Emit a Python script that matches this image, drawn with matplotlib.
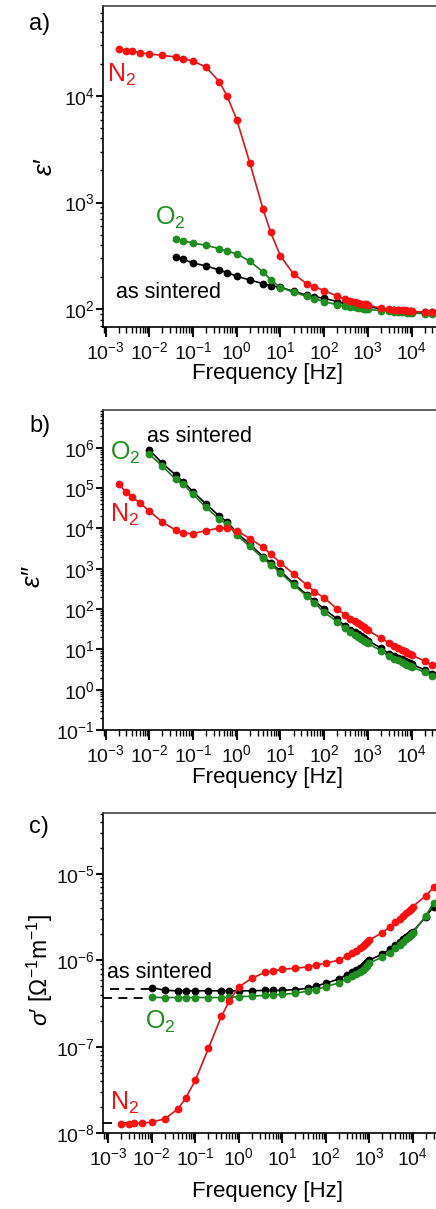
import numpy as np
import matplotlib
matplotlib.use("Agg")
import matplotlib.pyplot as plt
from matplotlib.ticker import LogLocator, FixedLocator, NullFormatter

plt.rcParams['font.family'] = ['Liberation Sans', 'DejaVu Sans']
plt.rcParams['mathtext.fontset'] = 'custom'
plt.rcParams['mathtext.rm'] = 'Liberation Sans'
plt.rcParams['mathtext.it'] = 'Liberation Sans:italic'
plt.rcParams['mathtext.default'] = 'regular'
plt.rcParams['axes.unicode_minus'] = False

W, H = 436, 1209

# measurement frequencies [Hz]
freq = [0.002, 0.003, 0.004, 0.006, 0.01, 0.02, 0.04, 0.06, 0.1, 0.2, 0.4, 0.6,
        1, 2, 4, 6, 10, 20, 40, 60, 100, 200,
        300, 400, 500, 600, 700, 800, 900, 1000, 2000,
        3000, 4000, 5000, 6000, 7000, 8000, 9000, 10000, 20000, 30000]
freq_b = freq[4:]   # O2 / as sintered start at 0.01 Hz
freq_a = freq[6:]   # eps' of O2 / as sintered starts at 0.04 Hz

# a) eps'
eps1_n2 = [27500, 26500, 26300, 25500, 24700, 24000, 23200, 22400, 21200, 18600, 13600, 10000,
           6000, 2350, 870, 525, 316, 214, 174, 162, 150, 133,
           124, 120, 117, 115, 113, 112, 111, 110, 102,
           100, 99, 98.5, 98, 97.5, 97, 96.5, 96, 94, 94]
eps1_o2 = [457, 440, 417, 398, 370, 351,
           331, 282, 224, 190, 160, 145, 132, 126, 118, 110,
           107, 105, 104, 103, 102, 101, 100.5, 100, 97,
           96, 95, 94.5, 94, 93.5, 93, 92.5, 92, 91, 91]
eps1_as = [307, 295, 271, 255, 233, 221,
           204, 188, 174, 166, 161, 147, 136, 131, 127, 118,
           114, 112, 110, 109, 108, 107, 106.5, 106, 101,
           99, 98, 97.5, 97, 96.5, 96, 95.5, 95, 94, 94]

# b) eps''
eps2_n2 = [1.24e5, 7.8e4, 6.1e4, 4.3e4, 2.7e4, 1.42e4, 9100, 7600, 7400, 8800, 10200, 10500,
           8700, 5600, 3400, 2300, 1400, 740, 396, 270, 190, 100,
           71, 58, 50, 44, 39.5, 35.5, 32.5, 30, 18.8,
           14.6, 12.4, 10.9, 9.8, 9.0, 8.3, 7.8, 7.3, 5.1, 4.1]
eps2_o2 = [6.9e5, 3.5e5, 1.64e5, 1.24e5, 7.0e4, 3.3e4, 1.68e4, 1.29e4,
           6800, 3550, 1820, 1260, 800, 395, 210, 143, 82, 49,
           33, 27, 23, 20.5, 18.5, 16.5, 15.2, 14, 9.3,
           6.8, 5.9, 5.3, 4.85, 4.45, 4.15, 3.9, 3.7, 2.7, 2.2]
eps2_as = [8.8e5, 4.1e5, 2.1e5, 1.44e5, 8.1e4, 4.0e4, 2.0e4, 1.46e4,
           7900, 4000, 2000, 1400, 880, 430, 228, 156, 100, 56,
           38, 31, 26.5, 23.5, 21, 19, 17.5, 16.5, 10.8,
           7.8, 6.8, 6.1, 5.6, 5.2, 4.8, 4.5, 4.3, 3.1, 2.5]

# c) sigma'
sig_n2 = [1.28e-8, 1.28e-8, 1.3e-8, 1.31e-8, 1.35e-8, 1.47e-8, 1.92e-8, 2.55e-8, 4.1e-8, 9.6e-8, 2.27e-7, 3.35e-7,
          4.95e-7, 6.2e-7, 7.3e-7, 7.5e-7, 7.9e-7, 8.1e-7, 8.45e-7, 8.85e-7, 9.25e-7, 1.01e-6,
          1.12e-6, 1.22e-6, 1.3e-6, 1.38e-6, 1.46e-6, 1.54e-6, 1.62e-6, 1.72e-6, 2.1e-6,
          2.45e-6, 2.75e-6, 3.0e-6, 3.25e-6, 3.5e-6, 3.7e-6, 3.95e-6, 4.2e-6, 5.6e-6, 7.0e-6]
sig_o2 = [3.74e-7, 3.72e-7, 3.72e-7, 3.72e-7, 3.72e-7, 3.72e-7, 3.72e-7, 3.75e-7,
          3.8e-7, 3.85e-7, 3.95e-7, 4.0e-7, 4.05e-7, 4.17e-7, 4.43e-7, 4.6e-7, 4.97e-7, 5.5e-7,
          6.1e-7, 6.6e-7, 7.0e-7, 7.4e-7, 7.8e-7, 8.2e-7, 8.7e-7, 9.25e-7, 1.1e-6,
          1.23e-6, 1.4e-6, 1.52e-6, 1.64e-6, 1.76e-6, 1.86e-6, 1.96e-6, 2.06e-6, 3.3e-6, 4.6e-6]
sig_as = [4.85e-7, 4.5e-7, 4.45e-7, 4.45e-7, 4.45e-7, 4.45e-7, 4.45e-7, 4.45e-7,
          4.45e-7, 4.45e-7, 4.5e-7, 4.5e-7, 4.5e-7, 4.6e-7, 4.75e-7, 5.06e-7, 5.43e-7, 6.1e-7,
          6.8e-7, 7.3e-7, 7.8e-7, 8.2e-7, 8.6e-7, 9.0e-7, 9.5e-7, 1.01e-6, 1.18e-6,
          1.35e-6, 1.5e-6, 1.62e-6, 1.75e-6, 1.85e-6, 1.95e-6, 2.05e-6, 2.15e-6, 3.2e-6, 4.2e-6]

# dc plateaus (dashed guides) in c)
dc_levels = [4.62e-7, 3.72e-7, 1.3e-8]
dc_starts = [10 ** -2.95, 10 ** -3.115, 10 ** -3.115]
dc_ends = [0.01, 0.01, 0.004]

# labelled decades
x_decades = [1e-3, 1e-2, 1e-1, 1e0, 1e1, 1e2, 1e3, 1e4]
y_decades_a = [1e2, 1e3, 1e4]
y_decades_b = [1e-1, 1e0, 1e1, 1e2, 1e3, 1e4, 1e5, 1e6]
y_decades_c = [1e-8, 1e-7, 1e-6, 1e-5]

RED, RED_L = '#ff1010', '#d81818'
GREEN, GREEN_L = '#1f8f1f', '#1b7a1b'
BLACK = '#000000'

fig = plt.figure(figsize=(W / 100, H / 100), dpi=100)


def px_axes(left, top, bottom, right):
    return fig.add_axes([left / W, 1 - bottom / H, (right - left) / W, (bottom - top) / H])


def px_text(x, y, s, **kw):
    kw.setdefault('ha', 'center')
    kw.setdefault('va', 'center')
    return fig.text(x / W, 1 - y / H, s, **kw)


def style(ax, xlim, ylim, ydec):
    ax.set_xscale('log')
    ax.set_yscale('log')
    ax.set_xlim(*xlim)
    ax.set_ylim(*ylim)
    ax.xaxis.set_major_locator(FixedLocator(x_decades))
    ax.yaxis.set_major_locator(FixedLocator(ydec))
    for a in (ax.xaxis, ax.yaxis):
        a.set_minor_locator(LogLocator(base=10, subs=np.arange(2, 10), numticks=100))
        a.set_minor_formatter(NullFormatter())
    ax.tick_params(which='major', direction='out', width=1.5, labelsize=14, colors='#111111')
    ax.tick_params(axis='x', which='major', length=7, pad=3)
    ax.tick_params(axis='x', which='minor', length=4, width=1)
    ax.tick_params(axis='y', which='major', length=5, pad=1)
    ax.tick_params(axis='y', which='minor', length=2.5, width=1)
    for sp in ax.spines.values():
        sp.set_linewidth(1.2)
    ax.spines['top'].set_color('#444444')


def series(ax, f, v, c, lc, z):
    ax.plot(f, v, '-', color=lc, lw=1.2, zorder=z)
    ax.plot(f, v, 'o', color=c, ms=5.6, mec='none', zorder=z + 0.5)


# a) eps'
ax1 = px_axes(103, 6, 327, 103 + 8.06 * 43.7)
style(ax1, (10 ** -3.06, 1e5), (10 ** 1.834, 10 ** 4.843), y_decades_a)
series(ax1, freq_a, eps1_as, BLACK, BLACK, 2)
series(ax1, freq_a, eps1_o2, GREEN, GREEN_L, 3)
series(ax1, freq, eps1_n2, RED, RED_L, 4)

# b) eps''
ax2 = px_axes(103, 410, 730, 103 + 8.06 * 43.7)
style(ax2, (10 ** -3.06, 1e5), (0.1, 10 ** 6.935), y_decades_b)
series(ax2, freq_b, eps2_as, BLACK, BLACK, 2)
series(ax2, freq_b, eps2_o2, GREEN, GREEN_L, 3)
series(ax2, freq, eps2_n2, RED, RED_L, 4)

# c) sigma'
ax3 = px_axes(103.3, 813, 1133.3, 103.3 + 8.115 * 43.5)
style(ax3, (10 ** -3.115, 1e5), (1e-8, 10 ** -4.295), y_decades_c)
for lvl, x0, x1 in zip(dc_levels, dc_starts, dc_ends):
    ax3.plot([x0, x1], [lvl, lvl], color=BLACK, lw=1.3, ls=(0, (5, 3.5)), zorder=1)
series(ax3, freq_b, sig_as, BLACK, BLACK, 2)
series(ax3, freq_b, sig_o2, GREEN, GREEN_L, 3)
series(ax3, freq, sig_n2, RED, RED_L, 4)

# panel letters
px_text(40, 24, 'a)', fontsize=17)
px_text(40, 426, 'b)', fontsize=17)
px_text(39, 827, 'c)', fontsize=17)

# axis labels
for y in (373, 777, 1191):
    px_text(268, y, 'Frequency [Hz]', fontsize=16)
px_text(45, 167, 'ε′', fontsize=19, rotation=90, fontstyle='italic')
px_text(33, 576, 'ε″', fontsize=19, rotation=90, fontstyle='italic')
px_text(40, 970, r"$\it{\sigma}$′ [Ω$^{-1}$m$^{-1}$]", fontsize=16.5, rotation=90)

# curve annotations
px_text(107, 75, r'N$_2$', color=RED, fontsize=18, ha='left')
px_text(155, 218, r'O$_2$', color=GREEN, fontsize=18, ha='left')
px_text(116, 292, 'as sintered', color=BLACK, fontsize=15.5, ha='left')

px_text(147, 436, 'as sintered', color=BLACK, fontsize=15.5, ha='left')
px_text(110, 453, r'O$_2$', color=GREEN, fontsize=18, ha='left')
px_text(110, 515, r'N$_2$', color=RED, fontsize=18, ha='left')

px_text(107, 972, 'as sintered', color=BLACK, fontsize=15.5, ha='left')
px_text(145, 1022, r'O$_2$', color=GREEN, fontsize=18, ha='left')
px_text(110, 1103, r'N$_2$', color=RED, fontsize=18, ha='left')

fig.savefig('out.png', dpi=100)
